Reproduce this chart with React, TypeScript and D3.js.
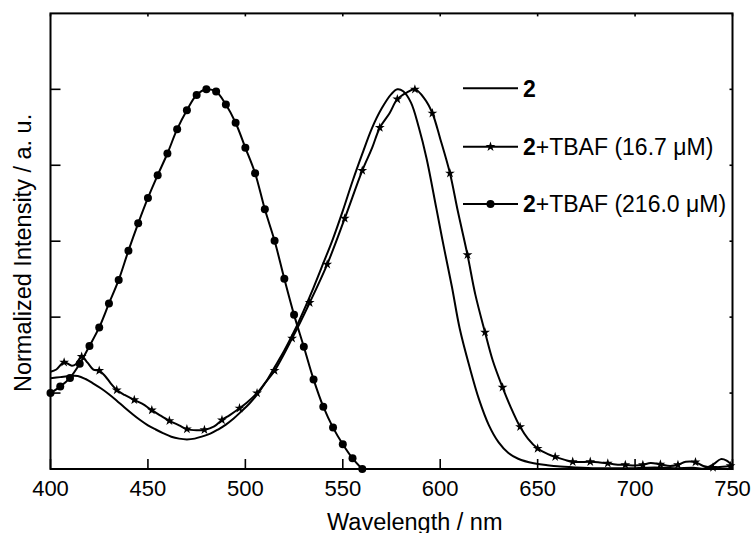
import React from "react";
import * as d3 from "d3";

const xTicks = [400, 450, 500, 550, 600, 650, 700, 750];
const yTicks = [0.2, 0.4, 0.6, 0.8, 1.0];

// Series "2" (plain line)
const s2Nm = [400, 405, 410, 414, 418, 422, 426, 430, 434, 438, 442, 446, 450, 454, 458, 462, 466, 470, 474, 478, 482, 486, 490, 494, 498, 502, 506, 510, 515, 520, 525, 530, 535, 540, 545, 550, 555, 560, 565, 570, 575, 578, 581, 585, 589, 593, 598, 602, 606, 610, 615, 620, 625, 630, 635, 640, 648, 655, 660, 670, 680, 690, 700, 710, 720, 730, 735, 740, 744, 747, 750];
const s2Val = [0.239, 0.242, 0.245, 0.245, 0.237, 0.225, 0.212, 0.197, 0.18, 0.162, 0.145, 0.129, 0.115, 0.104, 0.094, 0.085, 0.08, 0.078, 0.08, 0.086, 0.093, 0.104, 0.117, 0.133, 0.152, 0.172, 0.196, 0.225, 0.268, 0.312, 0.362, 0.418, 0.478, 0.542, 0.607, 0.68, 0.758, 0.83, 0.898, 0.95, 0.988, 1.0, 0.995, 0.965, 0.9, 0.818, 0.687, 0.581, 0.48, 0.37, 0.27, 0.182, 0.115, 0.07, 0.042, 0.027, 0.015, 0.01, 0.007, 0.004, 0.002, 0.002, 0.002, 0.004, 0.002, 0.003, 0.001, 0.012, 0.026, 0.022, 0.008];

// Series "2+TBAF (16.7 uM)" (stars)
const s3Nm = [400, 403, 407, 411, 413, 416, 419, 422, 425, 428, 431, 434, 438, 443, 447, 452, 456, 461, 466, 470, 475, 479, 484, 488, 492, 497, 501, 506, 510, 515, 524, 533, 542, 551, 560, 565, 569, 574, 578, 583, 587, 592, 596, 600, 605, 609, 614, 618, 623, 627, 632, 636, 641, 645, 650, 655, 659, 664, 668, 677, 681, 686, 690, 695, 700, 704, 708, 713, 718, 722, 726, 731, 735, 740, 745, 749];
const s3Val = [0.256, 0.262, 0.281, 0.272, 0.276, 0.296, 0.28, 0.262, 0.259, 0.245, 0.225, 0.208, 0.195, 0.182, 0.172, 0.155, 0.142, 0.127, 0.115, 0.105, 0.102, 0.103, 0.112, 0.129, 0.142, 0.16, 0.176, 0.2, 0.226, 0.259, 0.344, 0.438, 0.539, 0.66, 0.786, 0.845, 0.899, 0.937, 0.974, 0.992, 1.0, 0.975, 0.937, 0.87, 0.779, 0.68, 0.564, 0.46, 0.36, 0.285, 0.215, 0.165, 0.111, 0.08, 0.054, 0.04, 0.032, 0.024, 0.019, 0.019, 0.018, 0.015, 0.012, 0.011, 0.009, 0.011, 0.016, 0.012, 0.008, 0.011, 0.019, 0.018, 0.008, 0.004, 0.006, 0.008];
const s3MarkerNm = [407, 416, 425, 434, 443, 452, 461, 470, 479, 488, 497, 506, 515, 524, 533, 542, 551, 560, 569, 578, 587, 596, 605, 614, 623, 632, 641, 650, 659, 668, 677, 686, 695, 704, 713, 722, 731, 740, 749];

// Series "2+TBAF (216.0 uM)" (circles)
const s4Nm = [400, 405, 410, 415, 420, 425, 430, 435, 440, 445, 450, 455, 460, 465, 470, 475, 480, 485, 490, 495, 500, 505, 510, 515, 520, 525, 530, 535, 540, 545, 550, 555, 560];
const s4Val = [0.2, 0.217, 0.24, 0.277, 0.324, 0.373, 0.436, 0.498, 0.575, 0.647, 0.714, 0.774, 0.831, 0.895, 0.945, 0.985, 1.0, 0.994, 0.96, 0.912, 0.846, 0.779, 0.684, 0.601, 0.501, 0.406, 0.322, 0.236, 0.164, 0.109, 0.065, 0.028, 0.0];

const legendLabels = ["(16.7 \u03bcM)", "(216.0 \u03bcM)"];

const W = 756;
const H = 533;
const L = 50.5, R = 732.5, T = 13.4, B = 469;
const FONT = "'Liberation Sans', Arial, sans-serif";

export default function App() {
  const x = d3.scaleLinear().domain([400, 750]).range([L, R]);
  const y = d3.scaleLinear().domain([0, 1.2]).range([B, T]);
  const line = d3
    .line<[number, number]>()
    .x((d) => x(d[0]))
    .y((d) => y(d[1]))
    .curve(d3.curveCatmullRom.alpha(0.5));

  const s2 = s2Nm.map((n, i) => [n, s2Val[i]] as [number, number]);
  const s3 = s3Nm.map((n, i) => [n, s3Val[i]] as [number, number]);
  const s4 = s4Nm.map((n, i) => [n, s4Val[i]] as [number, number]);
  const s3Markers = s3.filter((d) => s3MarkerNm.includes(d[0]));

  const star = d3.symbol().type(d3.symbolStar).size(30)();

  const legendX1 = 463, legendX2 = 518, legendTx = 523;
  const legendY = [88.3, 146.7, 204];

  return (
    <svg
      width={W}
      height={H}
      style={{ position: "absolute", left: 0, top: 0, background: "#fff" }}
      fontFamily={FONT}
    >
      <rect x={0} y={0} width={W} height={H} fill="#fff" />
      {/* curves */}
      <path d={line(s2) || ""} fill="none" stroke="#000" strokeWidth={2} />
      <path d={line(s3) || ""} fill="none" stroke="#000" strokeWidth={2} />
      <path d={line(s4) || ""} fill="none" stroke="#000" strokeWidth={2} />
      {s3Markers.map((d, i) => (
        <path key={"st" + i} d={star || ""} transform={`translate(${x(d[0])},${y(d[1])})`} fill="#000" />
      ))}
      {s4.map((d, i) => (
        <circle key={"c" + i} cx={x(d[0])} cy={y(d[1])} r={4} fill="#000" />
      ))}

      {/* frame */}
      <rect x={L} y={T} width={R - L} height={B - T} fill="none" stroke="#000" strokeWidth={2} />
      {/* x ticks */}
      {xTicks.map((t) => (
        <g key={"xt" + t}>
          <line x1={x(t)} x2={x(t)} y1={B} y2={B - 10} stroke="#000" strokeWidth={1.6} />
          <line x1={x(t)} x2={x(t)} y1={T} y2={T + 3} stroke="#000" strokeWidth={1.6} />
          <text x={x(t)} y={496} textAnchor="middle" fontSize={22} fill="#000">
            {t}
          </text>
        </g>
      ))}
      {/* y ticks */}
      {yTicks.map((t) => (
        <g key={"yt" + t}>
          <line x1={L} x2={L + 10} y1={y(t)} y2={y(t)} stroke="#000" strokeWidth={1.6} />
          <line x1={R} x2={R - 3} y1={y(t)} y2={y(t)} stroke="#000" strokeWidth={1.6} />
        </g>
      ))}

      {/* axis titles */}
      <text x={327} y={529.5} fontSize={23.5} fill="#000">
        Wavelength / nm
      </text>
      <text
        transform={`translate(30.5,392) rotate(-90)`}
        fontSize={23.5}
        fill="#000"
      >
        Normalized Intensity / a. u.
      </text>

      {/* legend */}
      {legendY.map((ly, i) => (
        <g key={"lg" + i}>
          <line x1={legendX1} x2={legendX2} y1={ly} y2={ly} stroke="#000" strokeWidth={2} />
          {i === 1 && (
            <path d={star || ""} transform={`translate(${(legendX1 + legendX2) / 2},${ly})`} fill="#000" />
          )}
          {i === 2 && <circle cx={(legendX1 + legendX2) / 2} cy={ly} r={4} fill="#000" />}
          <text x={legendTx} y={ly + 8.2} fontSize={23} fill="#000">
            <tspan fontWeight="bold">2</tspan>
            {i > 0 && <tspan>+TBAF {legendLabels[i - 1]}</tspan>}
          </text>
        </g>
      ))}
    </svg>
  );
}
